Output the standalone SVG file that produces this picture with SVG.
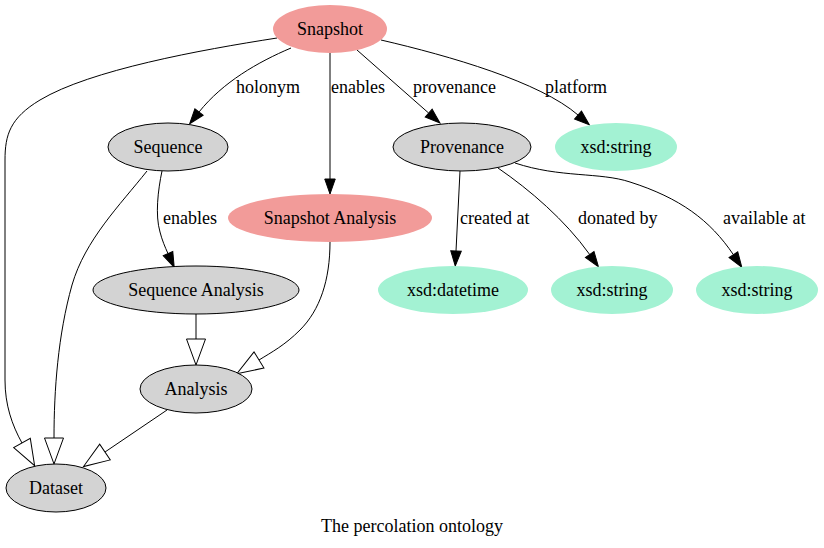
<svg xmlns="http://www.w3.org/2000/svg" width="824" height="548" viewBox="0 0 824 548">
<style>
text{font-family:"Liberation Serif","Times New Roman",serif;font-size:18px;fill:#000}
.n text{text-anchor:middle}
.g{fill:#d3d3d3;stroke:#000;stroke-width:1}
.p{fill:#f29b99;stroke:none}
.x{fill:#a3f2d3;stroke:none}
.e{fill:none;stroke:#000;stroke-width:1}
.f{marker-end:url(#fa)}
.h{marker-end:url(#ha)}
</style>
<defs>
<marker id="fa" markerUnits="userSpaceOnUse" orient="auto" refX="0" refY="0" markerWidth="20" markerHeight="14" viewBox="0 -7 20 14" overflow="visible">
<path d="M0,-5.25 L15,0 L0,5.25 z" fill="#000" stroke="#000" stroke-width="1"/>
</marker>
<marker id="ha" markerUnits="userSpaceOnUse" orient="auto" refX="0" refY="0" markerWidth="30" markerHeight="22" viewBox="0 -11 30 22" overflow="visible">
<path d="M0,-9.5 L26,0 L0,9.5 z" fill="#fff" stroke="#000" stroke-width="1"/>
</marker>
</defs>
<rect width="824" height="548" fill="#fff"/>
<g id="edges">
<path class="e f" d="M291,48 C258,62 223,82 199,112"/>
<path class="e f" d="M330,53 L330,179"/>
<path class="e f" d="M357,50 L428.7,113.1"/>
<path class="e f" d="M381,40 C450,56 540,82 578,115"/>
<path class="e h" d="M277,38 C200,50 90,70 40,100 C10,118 5,135 5,160 L5,380 C5,405 12,425 22,443"/>
<path class="e h" d="M147,171 C120,205 85,240 72,285 C58,335 54,390 54,438"/>
<path class="e f" d="M162,171 C158,190 155,215 160,232 C162,240 165,247 168,253.6"/>
<path class="e h" d="M196,314 L196,339"/>
<path class="e h" d="M330,242 C330,280 320,310 300,330 C285,345 272,352 259,360"/>
<path class="e h" d="M167,410 L105,452"/>
<path class="e f" d="M460,171 L456,251"/>
<path class="e f" d="M498,168 C530,190 565,220 589.7,254.5"/>
<path class="e f" d="M515,163 C560,178 600,172 630,182 C680,198 710,220 733.4,254.7"/>
<text x="236" y="93">holonym</text>
<text x="331" y="93">enables</text>
<text x="413" y="93">provenance</text>
<text x="545" y="93">platform</text>
<text x="163" y="224">enables</text>
<text x="460" y="224">created at</text>
<text x="578" y="224">donated by</text>
<text x="723" y="224">available at</text>
</g>
<g id="snapshot" class="n"><ellipse class="p" cx="330" cy="29" rx="57" ry="24"/><text x="330" y="35">Snapshot</text></g>
<g id="sequence" class="n"><ellipse class="g" cx="168" cy="147" rx="60" ry="24"/><text x="168" y="153">Sequence</text></g>
<g id="provenance" class="n"><ellipse class="g" cx="462" cy="147" rx="69" ry="24"/><text x="462" y="153">Provenance</text></g>
<g id="platform-string" class="n"><ellipse class="x" cx="616" cy="147" rx="61" ry="24"/><text x="616" y="153">xsd:string</text></g>
<g id="snapshot-analysis" class="n"><ellipse class="p" cx="330" cy="218" rx="102" ry="24"/><text x="330" y="224">Snapshot Analysis</text></g>
<g id="sequence-analysis" class="n"><ellipse class="g" cx="196" cy="290" rx="103" ry="24"/><text x="196" y="296">Sequence Analysis</text></g>
<g id="analysis" class="n"><ellipse class="g" cx="196" cy="389" rx="56" ry="24"/><text x="196" y="395">Analysis</text></g>
<g id="dataset" class="n"><ellipse class="g" cx="56" cy="488" rx="50" ry="24"/><text x="56" y="494">Dataset</text></g>
<g id="datetime" class="n"><ellipse class="x" cx="453" cy="290" rx="75" ry="24"/><text x="453" y="296">xsd:datetime</text></g>
<g id="donated-string" class="n"><ellipse class="x" cx="612" cy="290" rx="61" ry="24"/><text x="612" y="296">xsd:string</text></g>
<g id="available-string" class="n"><ellipse class="x" cx="757" cy="290" rx="61" ry="24"/><text x="757" y="296">xsd:string</text></g>
<text x="412" y="532" text-anchor="middle">The percolation ontology</text>
</svg>
